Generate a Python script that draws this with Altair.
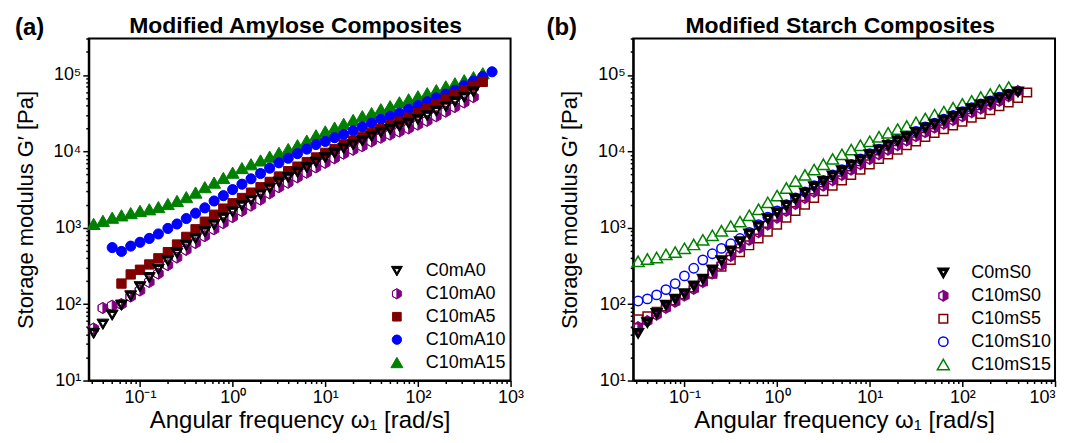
import altair as alt
import pandas as pd

# ---------------- data ----------------
# shared angular-frequency grid [rad/s]
FREQ = [0.0316, 0.0398, 0.0501, 0.0631, 0.0794, 0.1, 0.126, 0.158, 0.2, 0.251,
        0.316, 0.398, 0.501, 0.631, 0.794, 1.0, 1.26, 1.58, 2.0, 2.51,
        3.16, 3.98, 5.01, 6.31, 7.94, 10.0, 12.6, 15.8, 20.0, 25.1,
        31.6, 39.8, 50.1, 63.1, 79.4, 100.0, 126.0, 158.0, 200.0, 251.0,
        316.0, 398.0, 501.0, 631.0]

# (a) Modified Amylose Composites, storage modulus G' [Pa]
A_NAMES = ["C0mA0", "C10mA0", "C10mA5", "C10mA10", "C10mA15"]
A_FIRST = [0, 0, 3, 2, 0]          # index in FREQ of each series' first point
C0mA0 = [41.7, 55.0, 72.4, 97.7, 129, 170, 224, 288, 372, 468, 589, 724, 891, 1100,
         1350, 1620, 1950, 2290, 2750, 3310, 3980, 4570, 5370, 6170, 7240, 8320, 9550,
         11000, 12300, 13800, 15800, 17800, 19500, 21400, 23400, 26300, 29500, 33900,
         38900, 44700, 51300, 60300]
C10mA0 = [47.9, 89.1, 95.5, 100, 126, 151, 195, 251, 324, 407, 513, 631, 776, 955,
          1150, 1380, 1660, 1950, 2340, 2820, 3390, 3890, 4570, 5250, 6170, 7080, 8130,
          9330, 10500, 11700, 13500, 15100, 16600, 18200, 20000, 22400, 25100, 28800,
          33100, 38000, 43700, 51300]
C10mA5 = [186, 245, 282, 331, 398, 479, 603, 759, 955, 1200, 1480, 1780, 2090, 2450,
          2880, 3390, 3980, 4680, 5500, 6310, 7240, 8320, 9550, 10700, 12300, 13800,
          15500, 17400, 19500, 21900, 24500, 27500, 31600, 36300, 41700, 47900, 55000,
          63100, 72400, 81300]
C10mA10 = [550, 490, 575, 645, 725, 830, 980, 1120, 1320, 1550, 1820, 2240, 2630, 3160,
           3720, 4370, 5130, 6030, 7080, 8130, 9330, 10700, 12300, 13500, 15100, 16600,
           18600, 20900, 23400, 26300, 28800, 31600, 35500, 39800, 44700, 50100, 56200,
           63100, 72400, 83200, 95500, 110000]
C10mA15 = [1120, 1230, 1350, 1450, 1550, 1660, 1740, 1860, 2040, 2240, 2510, 2880, 3390,
           3890, 4470, 5250, 6030, 6760, 7590, 8510, 9550, 10700, 12000, 13800, 16200,
           18200, 20400, 22900, 25700, 28800, 31600, 35500, 38900, 43700, 47900, 52500,
           57500, 63100, 70800, 77600, 85100, 93300, 105000]

# (b) Modified Starch Composites
B_NAMES = ["C0mS0", "C10mS0", "C10mS5", "C10mS10", "C10mS15"]
B_FIRST = [0, 0, 0, 0, 0]
C0mS0 = [41.7, 57.5, 75.9, 97.7, 117, 138, 174, 214, 282, 372, 501, 661, 832, 1050,
         1320, 1580, 1950, 2400, 2880, 3470, 4070, 4790, 5620, 6610, 7760, 9120, 10500,
         12000, 13800, 15500, 17800, 20400, 22900, 25700, 28800, 32400, 36300, 40700,
         44700, 50100, 55000, 60300]
C10mS0 = [50.1, 60.3, 72.4, 89.1, 107, 129, 158, 195, 251, 324, 427, 550, 692, 871,
          1100, 1350, 1660, 2040, 2450, 2950, 3550, 4170, 4900, 5750, 6760, 7940, 9120,
          10500, 12000, 13800, 15800, 17800, 20400, 22900, 25700, 28800, 32400, 36300,
          40700, 45700, 52500, 61700]
C10mS5 = [63.1, 69.2, 79.4, 93.3, 112, 135, 166, 200, 251, 309, 380, 479, 589, 724,
          891, 1100, 1350, 1660, 2000, 2450, 3020, 3550, 4170, 4900, 5750, 6760, 7940,
          9120, 10500, 12000, 13500, 15500, 17400, 19500, 21900, 24500, 27500, 30900,
          34700, 38900, 43700, 50100, 58900]
C10mS10 = [110, 117, 132, 155, 186, 234, 295, 380, 457, 537, 617, 724, 871, 1100, 1380,
           1660, 2000, 2450, 2950, 3550, 4170, 4900, 5750, 6760, 7940, 9330, 10700,
           12300, 14100, 15800, 18200, 20900, 23400, 26300, 29500, 33100, 37200, 41700,
           45700, 51300, 56200]
C10mS15 = [363, 389, 407, 447, 479, 537, 603, 692, 794, 912, 1050, 1200, 1450, 1740,
           2140, 2630, 3310, 4070, 4900, 5750, 6760, 7940, 9120, 10500, 12000, 13500,
           15500, 17400, 19500, 21400, 24000, 26900, 30200, 33100, 37200, 41700, 45700,
           51300, 56200, 63100, 69200]

X_DOMAIN = [0.028, 1000]
Y_DOMAIN = [10, 300000]
X_LABELS = ["10⁻¹", "10⁰", "10¹", "10²", "10³"]     # decades 10^-1 .. 10^3
Y_LABELS = ["10¹", "10²", "10³", "10⁴", "10⁵"]      # decades 10^1 .. 10^5
MULT = [1, 2, 3, 4, 5, 6, 7, 8, 9]
X_TICKS = sorted(m * d for d in [0.01, 0.1, 1, 10, 100] for m in MULT
                 if X_DOMAIN[0] <= m * d <= X_DOMAIN[1]) + [1000]
Y_TICKS = sorted(m * d for d in [10, 100, 1000, 10000, 100000] for m in MULT
                 if Y_DOMAIN[0] <= m * d <= Y_DOMAIN[1])

# ---------------- styling ----------------
FONT = "Liberation Sans"
BLACK, PURPLE, DRED, BLUE, GREEN = "#000000", "#800080", "#800000", "#0000ff", "#008000"

TRI_DOWN_HALF = "M-0.92,-0.75 L0.92,-0.75 L0,0.85 Z M-0.42,-0.38 L0,0.38 L0.42,-0.38 Z"
HEX_HALF = ("M0,-0.85 L0.74,-0.42 L0.74,0.42 L0,0.85 Z "
            "M0,-0.85 L-0.74,-0.42 L-0.74,0.42 L0,0.85 L-0.74,0.42 L-0.74,-0.42 Z")
SQUARE = "M-0.72,-0.72 L0.72,-0.72 L0.72,0.72 L-0.72,0.72 Z"
CIRCLE = "M0.78,0 A0.78,0.78 0 1,1 -0.78,0 A0.78,0.78 0 1,1 0.78,0 Z"
TRI_UP = "M0,-0.88 L1,0.85 L-1,0.85 Z"
SHAPES = [TRI_DOWN_HALF, HEX_HALF, SQUARE, CIRCLE, TRI_UP]
STROKES = [BLACK, PURPLE, DRED, BLUE, GREEN]
A_FILLS = [BLACK, PURPLE, DRED, BLUE, GREEN]
B_FILLS = [BLACK, PURPLE, "transparent", "transparent", "transparent"]

LOG = "log(datum.value)/LN10"
MAJOR = f"abs({LOG} - round({LOG})) < 0.01"
X_EXPR = f"{MAJOR} ? {X_LABELS}[round({LOG}) + 1] : ''"
Y_EXPR = f"{MAJOR} ? {Y_LABELS}[round({LOG}) - 1] : ''"
TICK_SIZE = {"condition": {"test": MAJOR, "value": 6}, "value": 3}

W, H = 423, 343


def panel(names, lists, firsts, fills, stroke_w, msize, title, tag, tag_x,
          legend_x, legend_y, label_offset, flush):
    rows = []
    for name, vals, first in reversed(list(zip(names, lists, firsts))):
        for i, v in enumerate(vals):
            rows.append({"series": name, "freq": FREQ[first + i], "G": v})
    df = pd.DataFrame(rows)

    legend = alt.Legend(orient="none", legendX=legend_x, legendY=legend_y, title=None,
                        labelFont=FONT, labelFontSize=18, labelColor="black",
                        symbolSize=144, symbolStrokeWidth=stroke_w, rowPadding=5,
                        labelOffset=label_offset, padding=0)
    pts = alt.Chart(df).mark_point(filled=True, opacity=1, size=msize,
                                   strokeWidth=stroke_w).encode(
        x=alt.X("freq:Q",
                scale=alt.Scale(type="log", domain=X_DOMAIN, nice=False),
                axis=alt.Axis(values=X_TICKS, labelExpr=X_EXPR, tickSize=TICK_SIZE,
                              labelOverlap=False, labelFlush=flush, labelPadding=2,
                              title="Angular frequency ω₁ [rad/s]", titlePadding=2,
                              titleFontSize=24)),
        y=alt.Y("G:Q",
                scale=alt.Scale(type="log", domain=Y_DOMAIN, nice=False),
                axis=alt.Axis(values=Y_TICKS, labelExpr=Y_EXPR, tickSize=TICK_SIZE,
                              labelOverlap=False, labelFlush=False, labelPadding=2,
                              title="Storage modulus G′ [Pa]", titlePadding=16)),
        shape=alt.Shape("series:N", scale=alt.Scale(domain=names, range=SHAPES),
                        legend=legend),
        fill=alt.Fill("series:N", scale=alt.Scale(domain=names, range=fills),
                      legend=legend),
        stroke=alt.Stroke("series:N", scale=alt.Scale(domain=names, range=STROKES),
                          legend=legend),
    )
    text = pd.DataFrame({"tag": [tag], "title": [title]})
    label = alt.Chart(text).mark_text(
        font=FONT, fontSize=24, fontWeight="bold", align="left",
        baseline="alphabetic", color="black"
    ).encode(text="tag:N", x=alt.value(tag_x), y=alt.value(-4))
    head = alt.Chart(text).mark_text(
        font=FONT, fontSize=23, fontWeight="bold", align="center",
        baseline="alphabetic", color="black"
    ).encode(text="title:N", x=alt.value(W / 2 - 4), y=alt.value(-6))

    return alt.layer(pts, label, head).properties(width=W, height=H)


pa = panel(A_NAMES, [C0mA0, C10mA0, C10mA5, C10mA10, C10mA15], A_FIRST, A_FILLS, 1.0, 169,
           "Modified Amylose Composites", "(a)", -74, 300, 224, 20, False)
pb = panel(B_NAMES, [C0mS0, C10mS0, C10mS5, C10mS10, C10mS15], B_FIRST, B_FILLS, 1.5, 144,
           "Modified Starch Composites", "(b)", -87, 302, 226, 19, True)

chart = alt.hconcat(pa, pb, spacing=20).resolve_scale(
    shape="independent", fill="independent", stroke="independent"
).resolve_legend(
    shape="independent", fill="independent", stroke="independent"
).configure(
    padding={"left": 5, "top": 5, "right": 5, "bottom": 0},
    background="white",
).configure_view(
    stroke="black", strokeWidth=2
).configure_axis(
    grid=False, domainColor="black", domainWidth=2, tickColor="black", tickWidth=1.5,
    labelColor="black", titleColor="black", labelFont=FONT, titleFont=FONT,
    labelFontSize=18, titleFontSize=22, titleFontWeight="normal",
)

chart.save("out.html", embed_options={"renderer": "svg", "actions": False})
